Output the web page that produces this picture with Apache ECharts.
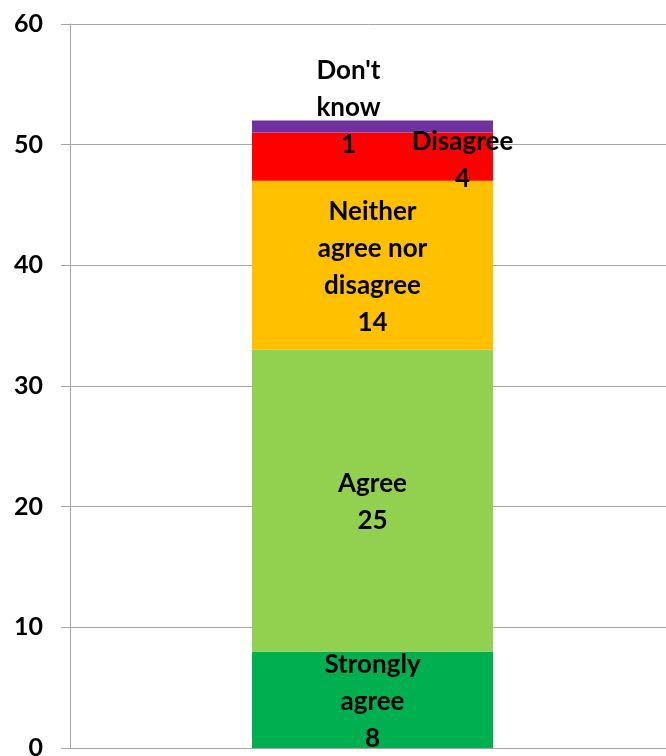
<!DOCTYPE html>
<html>
<head>
<meta charset="utf-8">
<script src="https://cdn.jsdelivr.net/npm/echarts@6/dist/echarts.min.js"></script>
<style>
html, body { margin: 0; padding: 0; background: #fff; }
#main { width: 666px; height: 756px; }
</style>
</head>
<body>
<div id="main"></div>
<script>
const categories = ['Response'];
const seriesNames = ['Strongly agree', 'Agree', 'Neither agree nor disagree', 'Disagree', "Don't know"];
const seriesLabels = ['Strongly\nagree', 'Agree', 'Neither\nagree nor\ndisagree', 'Disagree', "Don't\nknow"];
const seriesValues = [8, 25, 14, 4, 1];
const yTicks = [0, 10, 20, 30, 40, 50, 60];

const colors = ['#00B050', '#92D050', '#FFC000', '#FF0000', '#7030A0'];
const labelOffsets = [[0, 2], [0, 1], [0, 2], [90, 3], [-24, -19]];

const chart = echarts.init(document.getElementById('main'));
const font = 'Lato, "Open Sans", sans-serif';

const series = seriesNames.map(function (name, i) {
  return {
    name: name,
    type: 'bar',
    stack: 'total',
    barWidth: 241,
    data: [seriesValues[i]],
    itemStyle: { color: colors[i] },
    label: {
      show: true,
      position: 'inside',
      offset: labelOffsets[i],
      color: '#000',
      fontFamily: font,
      fontWeight: 'bold',
      fontSize: 26,
      lineHeight: 37,
      align: 'center',
      formatter: seriesLabels[i] + '\n' + seriesValues[i]
    }
  };
});

chart.setOption({
  animation: false,
  grid: { left: 70, top: 24, width: 605, bottom: 8, containLabel: false, outerBoundsMode: 'none' },
  xAxis: {
    type: 'category',
    data: categories,
    axisLine: { show: true, lineStyle: { color: '#A6A6A6', width: 1 } },
    axisTick: { show: false },
    axisLabel: { show: false }
  },
  yAxis: {
    type: 'value',
    min: yTicks[0],
    max: yTicks[yTicks.length - 1],
    interval: 10,
    axisLine: { show: true, lineStyle: { color: '#A6A6A6', width: 1 } },
    axisTick: { show: true, length: 9, lineStyle: { color: '#A6A6A6' } },
    splitLine: { show: true, lineStyle: { color: '#A6A6A6', width: 1 } },
    axisLabel: {
      color: '#000',
      fontFamily: font,
      fontWeight: 'bold',
      fontSize: 25,
      margin: 27
    }
  },
  series: series
});
</script>
</body>
</html>
